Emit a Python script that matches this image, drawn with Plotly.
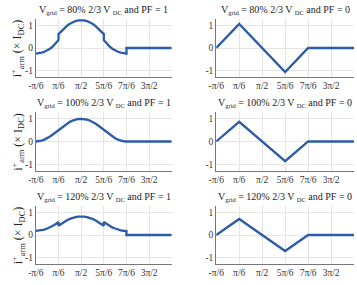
import numpy as np
import plotly.graph_objects as go

# x positions in units of pi/24
k_pf1 = [-4, -3, -2, -1, 0, 1, 2, 3, 4, 4, 5, 6, 7, 8, 9, 10, 11, 12, 13, 14, 15, 16, 17, 18, 19, 20, 20,
         21, 22, 23, 24, 25, 26, 27, 28, 28, 44]
k_pf0 = [-4, 4, 20, 28, 44]

i_80_pf1 = [-0.25, -0.24, -0.21, -0.17, -0.11, -0.03, 0.07, 0.20, 0.36, 0.625, 0.761, 0.884, 0.992, 1.083,
            1.155, 1.207, 1.239, 1.25, 1.239, 1.207, 1.155, 1.083, 0.992, 0.884, 0.761, 0.625, 0.36,
            0.20, 0.07, -0.03, -0.11, -0.17, -0.21, -0.24, -0.25, 0.0, 0.0]
i_100_pf1 = [0.0, 0.01, 0.038, 0.084, 0.146, 0.222, 0.309, 0.402, 0.5, 0.5, 0.609, 0.707, 0.793, 0.866,
             0.924, 0.966, 0.991, 1.0, 0.991, 0.966, 0.924, 0.866, 0.793, 0.707, 0.609, 0.5, 0.5,
             0.402, 0.309, 0.222, 0.146, 0.084, 0.038, 0.01, 0.0, 0.0, 0.0]
i_120_pf1 = [0.18, 0.19, 0.21, 0.24, 0.29, 0.34, 0.41, 0.49, 0.58, 0.417, 0.507, 0.589, 0.661, 0.722,
             0.770, 0.805, 0.826, 0.833, 0.826, 0.805, 0.770, 0.722, 0.661, 0.589, 0.507, 0.417, 0.58,
             0.49, 0.41, 0.34, 0.29, 0.24, 0.21, 0.19, 0.18, 0.0, 0.0]
i_80_pf0 = [0.0, 1.08, -1.08, 0.0, 0.0]
i_100_pf0 = [0.0, 0.87, -0.87, 0.0, 0.0]
i_120_pf0 = [0.0, 0.72, -0.72, 0.0, 0.0]

SUB = '<sub><span style="font-size:6.5px">{}</span></sub>'
titles = [
    "V" + SUB.format("grid") + " = 80% 2/3 V " + SUB.format("DC") + " and PF = 1",
    "V" + SUB.format("grid") + " = 80% 2/3 V " + SUB.format("DC") + " and PF = 0",
    "V" + SUB.format("grid") + " = 100% 2/3 V " + SUB.format("DC") + " and PF = 1",
    "V" + SUB.format("grid") + " = 100% 2/3 V " + SUB.format("DC") + " and PF = 0",
    "V" + SUB.format("grid") + " = 120% 2/3 V " + SUB.format("DC") + " and PF = 1",
    "V" + SUB.format("grid") + " = 120% 2/3 V " + SUB.format("DC") + " and PF = 0",
]
tick_vals_k = [-4, 4, 12, 20, 28, 36]
tick_text = ["-π/6", "π/6", "π/2", "5π/6", "7π/6", "3π/2"]
y_ticks = [-1, 0, 1]
y_label = "i<sup>+</sup><sub>arm</sub> (× I<sub>DC</sub>)"
x_label = "ωt (rad)"

series = [(k_pf1, i_80_pf1), (k_pf0, i_80_pf0),
          (k_pf1, i_100_pf1), (k_pf0, i_100_pf0),
          (k_pf1, i_120_pf1), (k_pf0, i_120_pf0)]

W, H = 357, 285
unit = np.pi / 24
col_px = [(28.5, 167.5), (213.0, 354.0)]
row_px = [(19.0, 77.0), (112.0, 171.0), (206.0, 264.0)]
FONT = "Liberation Serif, Times New Roman, serif"
BLUE = "#2a5ca8"

fig = go.Figure()
annotations = []
for idx, (kk, yy) in enumerate(series):
    r, c = divmod(idx, 2)
    n = idx + 1
    xa = "x" if n == 1 else f"x{n}"
    ya = "y" if n == 1 else f"y{n}"
    fig.add_trace(go.Scatter(x=[k * unit for k in kk], y=yy, mode="lines",
                             line=dict(color=BLUE, width=2.3), xaxis=xa, yaxis=ya,
                             showlegend=False, hoverinfo="skip"))
    x0, x1 = col_px[c]
    y0, y1 = row_px[r]
    xdom = [x0 / W, x1 / W]
    ydom = [1 - y1 / H, 1 - y0 / H]
    xkey = "xaxis" if n == 1 else f"xaxis{n}"
    ykey = "yaxis" if n == 1 else f"yaxis{n}"
    fig.layout[xkey] = dict(domain=xdom, anchor=ya, range=[-4 * unit, 44 * unit],
                            tickvals=[k * unit for k in tick_vals_k], ticktext=tick_text,
                            showgrid=True, gridcolor="#e4e4e4", gridwidth=1,
                            showline=True, linecolor="#777777", linewidth=1,
                            ticks="", zeroline=False,
                            tickfont=dict(family=FONT, size=9.5, color="#333333"))
    fig.layout[ykey] = dict(domain=ydom, anchor=xa, range=[-1.3, 1.3],
                            tickvals=y_ticks, ticktext=["-1", "0", "1"],
                            showgrid=True, gridcolor="#e4e4e4", gridwidth=1,
                            showline=True, linecolor="#777777", linewidth=1,
                            ticks="", zeroline=False,
                            tickfont=dict(family=FONT, size=9.5, color="#333333"))
    annotations.append(dict(text=titles[idx], xref="paper", yref="paper",
                            x=(x0 + x1) / 2 / W, y=1 - y0 / H, yshift=1,
                            xanchor="center", yanchor="bottom", showarrow=False,
                            font=dict(family=FONT, size=10, color="#222222")))
    if c == 0:
        annotations.append(dict(text=y_label, xref="paper", yref="paper",
                                x=10.5 / W, y=1 - (y0 + y1) / 2 / H, textangle=-90,
                                xanchor="center", yanchor="middle", showarrow=False,
                                font=dict(family=FONT, size=12, color="#222222")))
    if r == 2:
        annotations.append(dict(text=x_label, xref="paper", yref="paper",
                                x=(x0 + x1) / 2 / W, y=1 - 281 / H,
                                xanchor="center", yanchor="top", showarrow=False,
                                font=dict(family=FONT, size=10, color="#222222")))

fig.update_layout(width=W, height=H, margin=dict(l=0, r=0, t=0, b=0),
                  paper_bgcolor="white", plot_bgcolor="white",
                  annotations=annotations)
fig.write_html("out.html")
